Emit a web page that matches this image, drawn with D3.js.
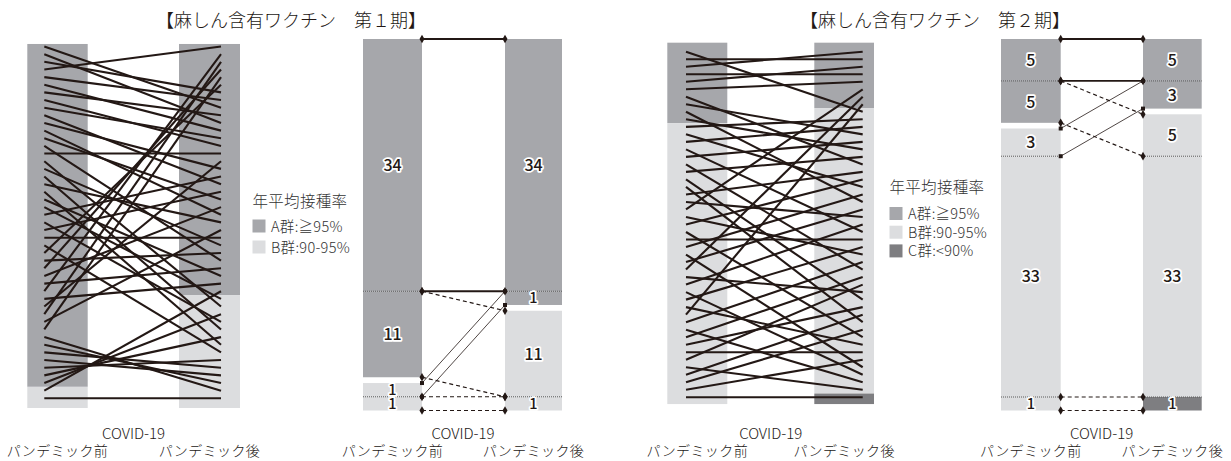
<!DOCTYPE html>
<html>
<head>
<meta charset="utf-8">
<script src="https://cdn.jsdelivr.net/npm/d3@7"></script>
<style>
  body { margin: 0; background: #fff; }
  svg text { font-family: "Noto Sans CJK JP", "Noto Sans", sans-serif; }
</style>
</head>
<body>
<svg id="chart" width="1231" height="461"></svg>
<script>
// ---- data -------------------------------------------------------------
const PREF_COUNT = 47;

// Rank after the pandemic for each prefecture, listed by its pre-pandemic rank (1..47)
const phase1AfterRank = [9, 11, 7, 1, 8, 12, 10, 14, 13, 19, 17, 23, 21, 29, 15, 35, 27, 38, 24, 40,
  31, 34, 18, 37, 20, 26, 41, 6, 28, 4, 22, 30, 2, 32, 16, 3, 25, 5, 46, 45, 43, 44, 42, 39, 36, 33, 47];
const phase2AfterRank = [9, 2, 1, 4, 3, 5, 16, 12, 21, 14, 10, 19, 11, 25, 13, 30, 15, 34, 37, 17,
  23, 6, 28, 18, 39, 26, 20, 43, 22, 7, 33, 24, 44, 27, 40, 8, 29, 45, 31, 35, 41, 32, 46, 36, 38, 42, 47];

// Number of ranks coloured by each rate group in the rank columns
const phase1RankGroupsBefore = [45, 2];
const phase1RankGroupsAfter = [33, 14];
const phase2RankGroupsBefore = [10, 37];
const phase2RankGroupsAfter = [8, 38, 1];

// Flow columns: segment counts and their groups
const phase1FlowBefore = [34, 11, 1, 1];
const phase1FlowBeforeGroup = ["A", "A", "B", "B"];
const phase1FlowAfter = [34, 1, 11, 1];
const phase1FlowAfterGroup = ["A", "A", "B", "B"];
const phase1Links = [[0, 0, "same"], [1, 2, "down"], [2, 1, "up"], [3, 3, "down"]];

const phase2FlowBefore = [5, 5, 3, 33, 1];
const phase2FlowBeforeGroup = ["A", "A", "B", "B", "B"];
const phase2FlowAfter = [5, 3, 5, 33, 1];
const phase2FlowAfterGroup = ["A", "A", "B", "B", "C"];
const phase2Links = [[0, 0, "same"], [1, 2, "down"], [2, 1, "up"], [4, 4, "down"]];

const groupKeys = ["A", "B", "C"];
const groupLabels = ["A群:≧95%", "B群:90-95%", "C群:<90%"];
const legendTitle = "年平均接種率";
const periodLabels = ["パンデミック前", "パンデミック後"];
const axisTitle = "COVID-19";
const titles = ["【麻しん含有ワクチン　第１期】", "【麻しん含有ワクチン　第２期】"];

// ---- style ------------------------------------------------------------
const groupColor = d3.scaleOrdinal().domain(groupKeys).range(["#a6a7ab", "#dcdddf", "#7e7e81"]);
const INK = "#231815";

const svg = d3.select("#chart");

// ---- rank (bump) columns ---------------------------------------------
function drawRanks(cfg, afterRank, groupsBefore, groupsAfter) {
  const g = svg.append("g");
  const y = d3.scaleLinear().domain([1, PREF_COUNT]).range(cfg.rankY);
  const x = d3.scalePoint().domain(["before", "after"]).range(cfg.lineX);

  const columns = [
    { bar: cfg.barL, groups: groupsBefore },
    { bar: cfg.barR, groups: groupsAfter }
  ];
  columns.forEach(col => {
    let start = 0;
    col.groups.forEach((n, i) => {
      const top = i === 0 ? y(cfg.barRank[0]) : y(start + 0.5);
      const end = start + n;
      const bottom = i === col.groups.length - 1 ? y(cfg.barRank[1]) : y(end + 0.5);
      g.append("rect")
        .attr("x", col.bar[0]).attr("width", col.bar[1] - col.bar[0])
        .attr("y", top).attr("height", bottom - top)
        .attr("fill", groupColor(groupKeys[i]));
      start = end;
    });
  });

  const links = afterRank.map((r, i) => ({ before: i + 1, after: r }));
  g.selectAll("line.rank").data(links).join("line")
    .attr("class", "rank")
    .attr("x1", x("before")).attr("y1", d => y(d.before))
    .attr("x2", x("after")).attr("y2", d => y(d.after))
    .attr("stroke", INK).attr("stroke-width", 2.1);
}

// ---- flow columns ----------------------------------------------------
const SEG_PAD = 0.9;   // extra units per segment
const GROUP_GAP = 0.8; // units of white space after the A group

function layoutSegments(counts, groups) {
  let pos = 0;
  const segs = counts.map((n, i) => {
    let gapBefore = false;
    if (i > 0 && groups[i - 1] === "A" && groups[i] !== "A") { pos += GROUP_GAP; gapBefore = true; }
    const s = { n, group: groups[i], top: pos, bottom: pos + n + SEG_PAD, gapBefore };
    pos = s.bottom;
    return s;
  });
  return { segs, total: pos };
}

function drawFlows(cfg, before, beforeGroup, after, afterGroup, links) {
  const g = svg.append("g");
  const L = layoutSegments(before, beforeGroup);
  const R = layoutSegments(after, afterGroup);
  const yL = d3.scaleLinear().domain([0, L.total]).range(cfg.yRange);
  const yR = d3.scaleLinear().domain([0, R.total]).range(cfg.yRange);
  const x = d3.scalePoint().domain(["before", "after"]).range([cfg.barL[1], cfg.barR[0]]);

  const cols = [
    { lay: L, y: yL, bar: cfg.barL },
    { lay: R, y: yR, bar: cfg.barR }
  ];

  cols.forEach(col => {
    col.lay.segs.forEach(s => {
      g.append("rect")
        .attr("x", col.bar[0]).attr("width", col.bar[1] - col.bar[0])
        .attr("y", col.y(s.top)).attr("height", col.y(s.bottom) - col.y(s.top))
        .attr("fill", groupColor(s.group));
    });
    // dotted boundaries between touching segments
    col.lay.segs.forEach((s, i) => {
      if (i === 0 || s.gapBefore) return;
      g.append("line")
        .attr("x1", col.bar[0]).attr("x2", col.bar[1])
        .attr("y1", col.y(s.top)).attr("y2", col.y(s.top))
        .attr("stroke", "#5a5a5a").attr("stroke-width", 1)
        .attr("stroke-dasharray", "1,1");
    });
  });

  const styles = {
    same: { w: 1.8, dash: null, mark: d3.symbolDiamond, size: 22 },
    down: { w: 1.2, dash: "4,3", mark: d3.symbolDiamond, size: 22 },
    up:   { w: 0.8, dash: null, mark: d3.symbolSquare, size: 16 }
  };

  links.forEach(([a, b, type]) => {
    const st = styles[type];
    const sa = L.segs[a], sb = R.segs[b];
    ["top", "bottom"].forEach(k => {
      const y1 = yL(sa[k]), y2 = yR(sb[k]);
      g.append("line")
        .attr("x1", x("before")).attr("y1", y1)
        .attr("x2", x("after")).attr("y2", y2)
        .attr("stroke", INK).attr("stroke-width", st.w)
        .attr("stroke-dasharray", st.dash);
      [[x("before"), y1], [x("after"), y2]].forEach(([px, py]) => {
        g.append("path")
          .attr("d", d3.symbol().type(st.mark).size(st.size)())
          .attr("transform", `translate(${px},${py})`)
          .attr("fill", INK);
      });
    });
  });

  // segment counts
  cols.forEach(col => {
    col.lay.segs.forEach(s => {
      g.append("text")
        .attr("x", (col.bar[0] + col.bar[1]) / 2)
        .attr("y", col.y((s.top + s.bottom) / 2))
        .attr("dy", "0.36em")
        .attr("text-anchor", "middle")
        .attr("font-size", s.n > 1 ? 16 : 14.5).attr("font-weight", 500)
        .attr("fill", INK)
        .attr("stroke", "#fff").attr("stroke-width", 3.4)
        .attr("stroke-linejoin", "round")
        .attr("paint-order", "stroke")
        .text(s.n);
    });
  });
}

// ---- axis labels, legend, titles -------------------------------------
function drawPeriodLabels(barL, barR) {
  const cL = (barL[0] + barL[1]) / 2, cR = (barR[0] + barR[1]) / 2;
  const x = d3.scalePoint().domain(periodLabels).range([cL, cR]);
  svg.append("text")
    .attr("x", (cL + cR) / 2).attr("y", 438.5)
    .attr("text-anchor", "middle").attr("font-size", 15).attr("font-weight", 300)
    .attr("fill", INK)
    .text(axisTitle);
  periodLabels.forEach(p => {
    svg.append("text")
      .attr("x", x(p)).attr("y", 456)
      .attr("text-anchor", "middle").attr("font-size", 14).attr("font-weight", 300)
      .attr("fill", INK).attr("letter-spacing", 0.4)
      .text(p);
  });
}

function drawLegend(x, yTitle, firstBoxTop, step, count) {
  const g = svg.append("g");
  g.append("text").attr("x", x).attr("y", yTitle)
    .attr("font-size", 15.5).attr("font-weight", 300).attr("fill", "#333")
    .attr("letter-spacing", 0.3)
    .text(legendTitle);
  groupKeys.slice(0, count).forEach((k, i) => {
    const top = firstBoxTop + i * step;
    g.append("rect").attr("x", x).attr("y", top).attr("width", 13).attr("height", 13)
      .attr("fill", groupColor(k));
    g.append("text").attr("x", x + 18.5).attr("y", top + 12)
      .attr("font-size", 14.5).attr("font-weight", 300).attr("fill", "#333")
      .attr("letter-spacing", 0.3)
      .text(groupLabels[i]);
  });
}

function drawTitle(text, cx) {
  svg.append("text").attr("x", cx).attr("y", 27)
    .attr("text-anchor", "middle").attr("font-size", 18).attr("font-weight", 300)
    .attr("fill", INK)
    .text(text);
}

// ---- panels -----------------------------------------------------------
const p1 = { barL: [27.3, 87.7], barR: [179, 240], lineX: [44.3, 221], rankY: [46.5, 398.3], barRank: [0.67, 48.27] };
const p2 = { barL: [363, 422], barR: [505, 562], yRange: [39, 410.5] };
const p3 = { barL: [667.3, 727.3], barR: [814.3, 874], lineX: [686, 862.7], rankY: [51.7, 397.3], barRank: [-0.2, 47.9] };
const p4 = { barL: [1001, 1060.7], barR: [1143, 1201.7], yRange: [39, 410.5] };

drawRanks(p1, phase1AfterRank, phase1RankGroupsBefore, phase1RankGroupsAfter);
drawFlows(p2, phase1FlowBefore, phase1FlowBeforeGroup, phase1FlowAfter, phase1FlowAfterGroup, phase1Links);
drawRanks(p3, phase2AfterRank, phase2RankGroupsBefore, phase2RankGroupsAfter);
drawFlows(p4, phase2FlowBefore, phase2FlowBeforeGroup, phase2FlowAfter, phase2FlowAfterGroup, phase2Links);

[p1, p2, p3, p4].forEach(p => drawPeriodLabels(p.barL, p.barR));

drawLegend(252.5, 207, 219.5, 21, 2);
drawLegend(889.5, 193, 207, 18.7, 3);

drawTitle(titles[0], 291);
drawTitle(titles[1], 935);
</script>
</body>
</html>
